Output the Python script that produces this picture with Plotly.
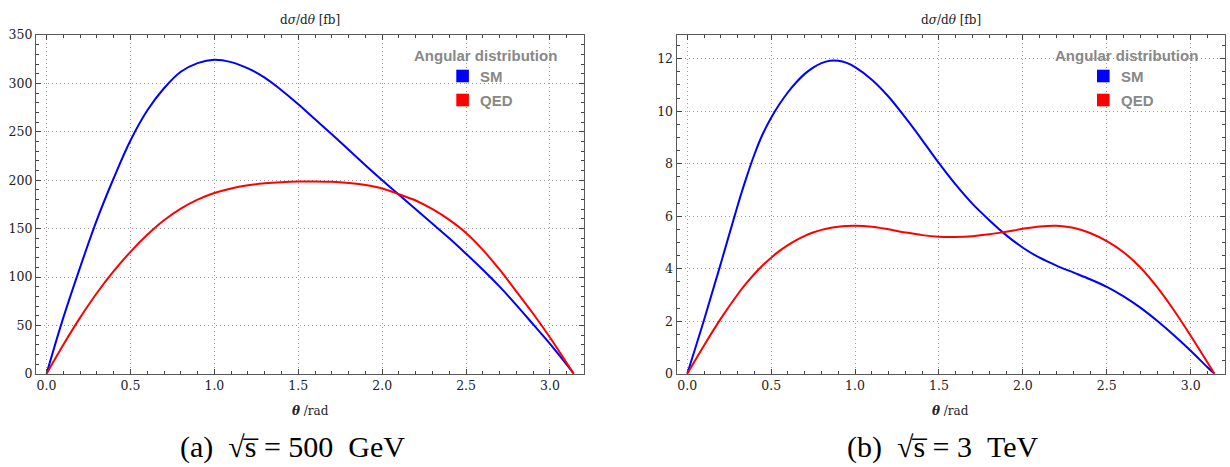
import plotly.graph_objects as go
import numpy as np

# ---------------- data ----------------
# angle grid [rad]; a few extra nodes where the 3 TeV curves bend sharply
theta_500 = [0.0, 0.1, 0.2, 0.3, 0.4, 0.5, 0.6, 0.7, 0.8, 0.9, 1.0, 1.1, 1.2, 1.3, 1.4,
             1.5, 1.6, 1.7, 1.8, 1.9, 2.0, 2.1, 2.2, 2.3, 2.4, 2.5, 2.6, 2.7, 2.8, 2.9,
             3.0, 3.1, float(np.pi)]

# sqrt(s) = 500 GeV, dsigma/dtheta [fb]
sm_500 = [0, 58, 110, 159, 202, 241, 272, 295, 312, 321, 324.5, 322, 315.5, 306, 293,
          278.5, 263, 247.5, 231.5, 215.5, 200, 185, 170, 155, 140, 124, 107.5, 90, 71, 51,
          31, 9.5, 0]
qed_500 = [0, 30, 58, 83.5, 106, 126, 143.6, 158.6, 170.6, 179.9, 186.7, 191.5, 194.7, 196.8, 198,
           198.6, 198.7, 198.3, 197, 195, 191.5, 185.5, 179, 170, 159, 145.5, 128, 107.5, 85, 62,
           37.5, 11, 0]

theta_3000 = [0.0, 0.1, 0.2, 0.3, 0.35, 0.4, 0.45, 0.5, 0.55, 0.6, 0.65, 0.7, 0.75, 0.8,
              0.85, 0.9, 0.95, 1.0, 1.1, 1.2, 1.3, 1.4, 1.5, 1.6, 1.7, 1.8, 1.9, 2.0,
              2.1, 2.2, 2.3, 2.4, 2.5, 2.6, 2.7, 2.8, 2.9, 3.0, 3.1, float(np.pi)]

# sqrt(s) = 3 TeV, dsigma/dtheta [fb]
sm_3000 = [0, 2.05, 4.2, 6.4, 7.42, 8.35, 9.13, 9.75, 10.27, 10.72, 11.1, 11.42, 11.66, 11.83,
           11.92, 11.92, 11.84, 11.68, 11.2, 10.55, 9.75, 8.9, 8.02, 7.2, 6.47, 5.85, 5.28, 4.8,
           4.42, 4.12, 3.86, 3.6, 3.31, 2.95, 2.52, 2.02, 1.47, 0.88, 0.25, 0]
qed_3000 = [0, 1.08, 2.1, 3.02, 3.43, 3.8, 4.13, 4.42, 4.68, 4.9, 5.09, 5.25, 5.38, 5.48,
            5.55, 5.6, 5.63, 5.64, 5.6, 5.5, 5.38, 5.28, 5.22, 5.21, 5.24, 5.31, 5.41, 5.52,
            5.61, 5.64, 5.56, 5.36, 5.05, 4.63, 4.05, 3.3, 2.42, 1.45, 0.43, 0]

x_ticks = [0.0, 0.5, 1.0, 1.5, 2.0, 2.5, 3.0]
x_ticktext = ["0.0", "0.5", "1.0", "1.5", "2.0", "2.5", "3.0"]
y_ticks_500 = [0, 50, 100, 150, 200, 250, 300, 350]
y_ticks_3000 = [0, 2, 4, 6, 8, 10, 12]

series_names = ["SM", "QED"]
series_colors = ["#0000ff", "#ff0000"]
captions = ["(a)\u2002√s\u0305 = 500\u2002GeV", "(b)\u2002√s\u0305 = 3\u2002TeV"]

# ---------------- layout helpers ----------------
W, H = 1230, 467


def fx(p):
    return p / W


def fy(p):
    return 1 - p / H


frames = [(36.0, 584.3), (676.7, 1225.0)]
frame_top, frame_bottom = 35.0, 373.8

SERIF = "DejaVu Serif"
SANS = "Liberation Sans"
x_range = [-0.02 * np.pi, 1.02 * np.pi]

fig = go.Figure()

panels = [
    (theta_500, sm_500, qed_500, "x", "y"),
    (theta_3000, sm_3000, qed_3000, "x2", "y2"),
]
for th, sm, qed, xa, ya in panels:
    for vals, name, col in zip([sm, qed], series_names, series_colors):
        fig.add_trace(go.Scatter(
            x=th, y=vals, mode="lines", name=name, xaxis=xa, yaxis=ya,
            line=dict(color=col, width=2, shape="spline", smoothing=1.0),
            showlegend=False, hoverinfo="skip"))

axis_common = dict(
    showline=True, linecolor="#595959", linewidth=1.3, mirror="allticks",
    ticks="inside", ticklen=5, tickwidth=1, tickcolor="#444444",
    showgrid=True, gridcolor="#9a9a9a", gridwidth=1, griddash="1px,3px",
    zeroline=False, tickfont=dict(family=SERIF, size=12.5, color="#222222"),
    fixedrange=True, automargin=False,
)

xaxis_cfg = dict(axis_common, range=x_range, tickvals=x_ticks, ticktext=x_ticktext,
                 minor=dict(dtick=0.1, tick0=0, ticks="inside", ticklen=3,
                            tickcolor="#444444", showgrid=False))

fig.update_layout(
    width=W, height=H,
    margin=dict(l=0, r=0, t=0, b=0, pad=0, autoexpand=False),
    paper_bgcolor="white", plot_bgcolor="white",
    showlegend=False,
    xaxis=dict(xaxis_cfg, domain=[fx(frames[0][0]), fx(frames[0][1])], anchor="y"),
    yaxis=dict(axis_common, range=[0, 350], tickvals=y_ticks_500,
               domain=[fy(frame_bottom), fy(frame_top)], anchor="x",
               minor=dict(dtick=10, tick0=0, ticks="inside", ticklen=3,
                          tickcolor="#444444", showgrid=False)),
    xaxis2=dict(xaxis_cfg, domain=[fx(frames[1][0]), fx(frames[1][1])], anchor="y2"),
    yaxis2=dict(axis_common, range=[0, 12.9], tickvals=y_ticks_3000,
                domain=[fy(frame_bottom), fy(frame_top)], anchor="x2",
                minor=dict(dtick=0.5, tick0=0, ticks="inside", ticklen=3,
                           tickcolor="#444444", showgrid=False)),
)

annotations = []
shapes = []
caption_centers = [292, 943]
for i, (left, right) in enumerate(frames):
    cx = (left + right) / 2
    # panel heading (y quantity)
    annotations.append(dict(
        text="d<i>σ</i>/d<i>θ</i> [fb]", x=fx(cx), y=fy(20), xref="paper", yref="paper",
        showarrow=False, xanchor="center", yanchor="middle",
        font=dict(family=SERIF, size=12, color="#222222")))
    # x axis title
    annotations.append(dict(
        text="<b><i>θ</i></b> /rad", x=fx(cx), y=fy(411), xref="paper", yref="paper",
        showarrow=False, xanchor="center", yanchor="middle",
        font=dict(family=SERIF, size=12, color="#222222")))
    # sub-figure caption
    annotations.append(dict(
        text=captions[i], x=fx(caption_centers[i]), y=fy(447), xref="paper", yref="paper",
        showarrow=False, xanchor="center", yanchor="middle",
        font=dict(family="Liberation Serif", size=30, color="#000000")))

    # legend block: title plus coloured swatches
    lx_title = right - 99
    lx_sq = right - 128
    annotations.append(dict(
        text="<b>Angular distribution</b>", x=fx(lx_title), y=fy(55), xref="paper",
        yref="paper", showarrow=False, xanchor="center", yanchor="middle",
        font=dict(family=SANS, size=15, color="#888888")))
    for k, (name, col) in enumerate(zip(series_names, series_colors)):
        yc = 76 + 24 * k
        shapes.append(dict(type="rect", xref="paper", yref="paper",
                           x0=fx(lx_sq), x1=fx(lx_sq + 12.6),
                           y0=fy(yc + 6.3), y1=fy(yc - 6.3),
                           fillcolor=col, line=dict(width=0)))
        annotations.append(dict(
            text=f"<b>{name}</b>", x=fx(lx_sq + 21.5), y=fy(yc), xref="paper",
            yref="paper", showarrow=False, xanchor="left", yanchor="middle",
            font=dict(family=SANS, size=15, color="#888888")))

fig.update_layout(annotations=annotations, shapes=shapes)
fig.write_html("out.html")
